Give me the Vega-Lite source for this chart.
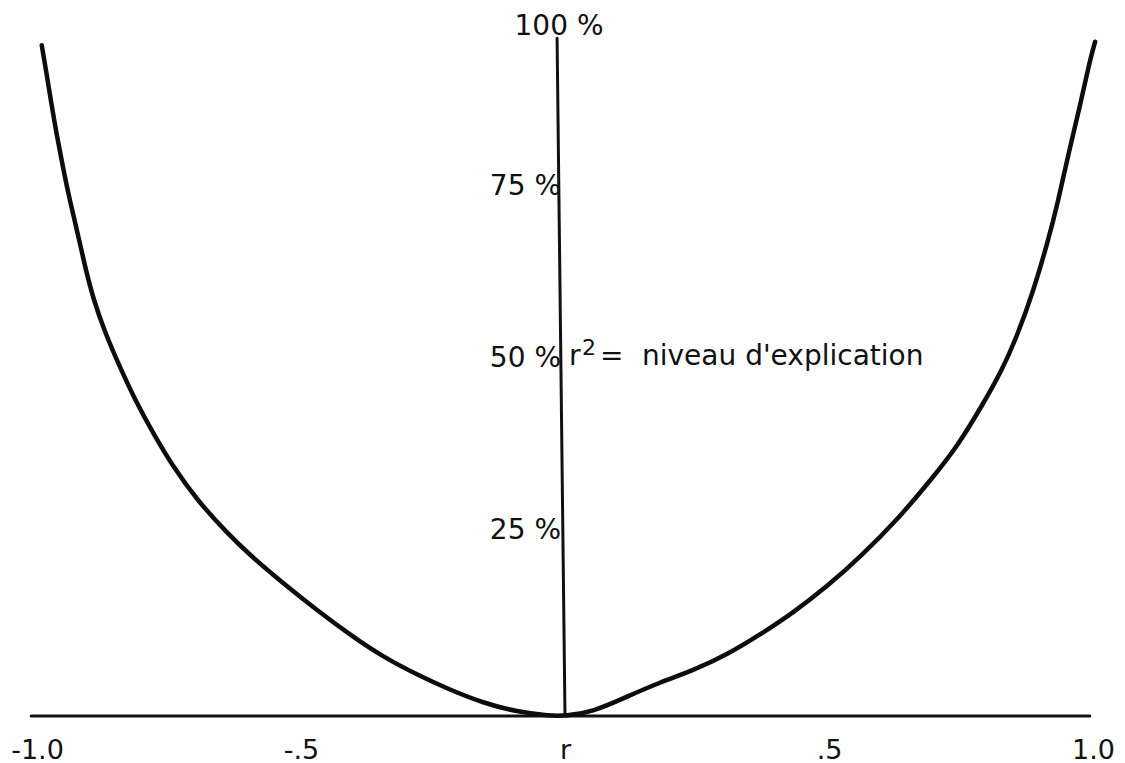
{
  "$schema": "https://vega.github.io/schema/vega-lite/v6.json",
  "width": 1056,
  "height": 688,
  "autosize": "none",
  "padding": {"left": 37, "top": 28, "right": 32, "bottom": 47},
  "background": "white",
  "config": {
    "view": {"stroke": null},
    "font": "DejaVu Sans",
    "text": {"font": "DejaVu Sans", "fontSize": 28, "color": "#111111"}
  },
  "datasets": {
    "curve": [
      {"r": -0.991, "v": 97.5}, {"r": -0.983, "v": 93.9}, {"r": -0.973, "v": 89.1},
      {"r": -0.962, "v": 84.2}, {"r": -0.950, "v": 79.4}, {"r": -0.938, "v": 75.0},
      {"r": -0.923, "v": 70.2}, {"r": -0.909, "v": 65.3}, {"r": -0.893, "v": 60.5},
      {"r": -0.871, "v": 55.7}, {"r": -0.843, "v": 50.7}, {"r": -0.814, "v": 45.9},
      {"r": -0.780, "v": 41.1}, {"r": -0.742, "v": 36.2}, {"r": -0.697, "v": 31.4},
      {"r": -0.640, "v": 26.6}, {"r": -0.597, "v": 23.4}, {"r": -0.534, "v": 19.3},
      {"r": -0.470, "v": 15.4}, {"r": -0.407, "v": 11.8}, {"r": -0.345, "v": 8.6},
      {"r": -0.280, "v": 6.0}, {"r": -0.218, "v": 3.8}, {"r": -0.155, "v": 1.9},
      {"r": -0.091, "v": 0.6}, {"r": -0.028, "v": 0.0}, {"r": 0.0, "v": 0.0},
      {"r": 0.053, "v": 0.6}, {"r": 0.117, "v": 2.8}, {"r": 0.180, "v": 4.9},
      {"r": 0.242, "v": 6.6}, {"r": 0.307, "v": 8.9}, {"r": 0.369, "v": 11.8},
      {"r": 0.432, "v": 15.0}, {"r": 0.496, "v": 18.8}, {"r": 0.559, "v": 23.1},
      {"r": 0.634, "v": 28.9}, {"r": 0.697, "v": 34.7}, {"r": 0.745, "v": 39.4},
      {"r": 0.792, "v": 45.4}, {"r": 0.826, "v": 50.0}, {"r": 0.856, "v": 55.2},
      {"r": 0.886, "v": 61.5}, {"r": 0.914, "v": 68.8}, {"r": 0.934, "v": 74.8},
      {"r": 0.953, "v": 81.6}, {"r": 0.975, "v": 88.5}, {"r": 0.994, "v": 95.3},
      {"r": 1.004, "v": 98.0}
    ],
    "axisLines": [
      {"axis": "r", "r": -1.011, "v": 0, "r2": 0.994, "v2": 0},
      {"axis": "pct", "r": -0.015, "v": 98.5, "r2": 0.0, "v2": 0}
    ],
    "pctLabels": [
      {"r": 0, "v": 25, "label": "25 %"},
      {"r": 0, "v": 50, "label": "50 %"},
      {"r": 0, "v": 75, "label": "75 %"}
    ],
    "topLabel": [{"r": 0, "v": 100, "label": "100 %"}],
    "annot": [{"r": 0, "v": 50}]
  },
  "encoding": {
    "x": {
      "field": "r",
      "type": "quantitative",
      "scale": {"domain": [-1, 1], "nice": false, "zero": false},
      "axis": {
        "values": [-1, -0.5, 0, 0.5, 1],
        "labelExpr": "datum.value == -1 ? '-1.0' : datum.value == -0.5 ? '-.5' : datum.value == 0 ? 'r' : datum.value == 0.5 ? '.5' : '1.0'",
        "domain": false,
        "ticks": false,
        "grid": false,
        "title": null,
        "labelFont": "DejaVu Sans",
        "labelFontSize": 27,
        "labelColor": "#111111",
        "labelPadding": 21,
        "labelBaseline": "top",
        "labelFlush": false,
        "labelOverlap": false
      }
    },
    "y": {
      "field": "v",
      "type": "quantitative",
      "scale": {"domain": [0, 100], "nice": false},
      "axis": null
    }
  },
  "layer": [
    {
      "data": {"name": "axisLines"},
      "mark": {"type": "rule", "color": "#111111", "strokeWidth": 3, "strokeCap": "round"},
      "encoding": {
        "x2": {"field": "r2"},
        "y2": {"field": "v2"}
      }
    },
    {
      "data": {"name": "curve"},
      "mark": {"type": "line", "color": "#0d0d0d", "strokeWidth": 4.5, "strokeCap": "round", "strokeJoin": "round", "interpolate": "basis"},
      "encoding": {"order": {"field": "r", "type": "quantitative"}}
    },
    {
      "data": {"name": "pctLabels"},
      "mark": {"type": "text", "align": "right", "baseline": "alphabetic", "dx": -4, "dy": -5},
      "encoding": {"text": {"field": "label"}}
    },
    {
      "data": {"name": "topLabel"},
      "mark": {"type": "text", "align": "center", "baseline": "alphabetic", "dx": -6, "dy": 7},
      "encoding": {"text": {"field": "label"}}
    },
    {
      "data": {"name": "annot"},
      "mark": {"type": "text", "align": "left", "baseline": "alphabetic", "dx": 4, "dy": -7},
      "encoding": {"text": {"value": "r"}}
    },
    {
      "data": {"name": "annot"},
      "mark": {"type": "text", "align": "left", "baseline": "alphabetic", "dx": 17, "dy": -17, "fontSize": 22},
      "encoding": {"text": {"value": "2"}}
    },
    {
      "data": {"name": "annot"},
      "mark": {"type": "text", "align": "left", "baseline": "alphabetic", "dx": 35, "dy": -7},
      "encoding": {"text": {"value": "="}}
    },
    {
      "data": {"name": "annot"},
      "mark": {"type": "text", "align": "left", "baseline": "alphabetic", "dx": 77, "dy": -7},
      "encoding": {"text": {"value": "niveau d'explication"}}
    }
  ]
}
